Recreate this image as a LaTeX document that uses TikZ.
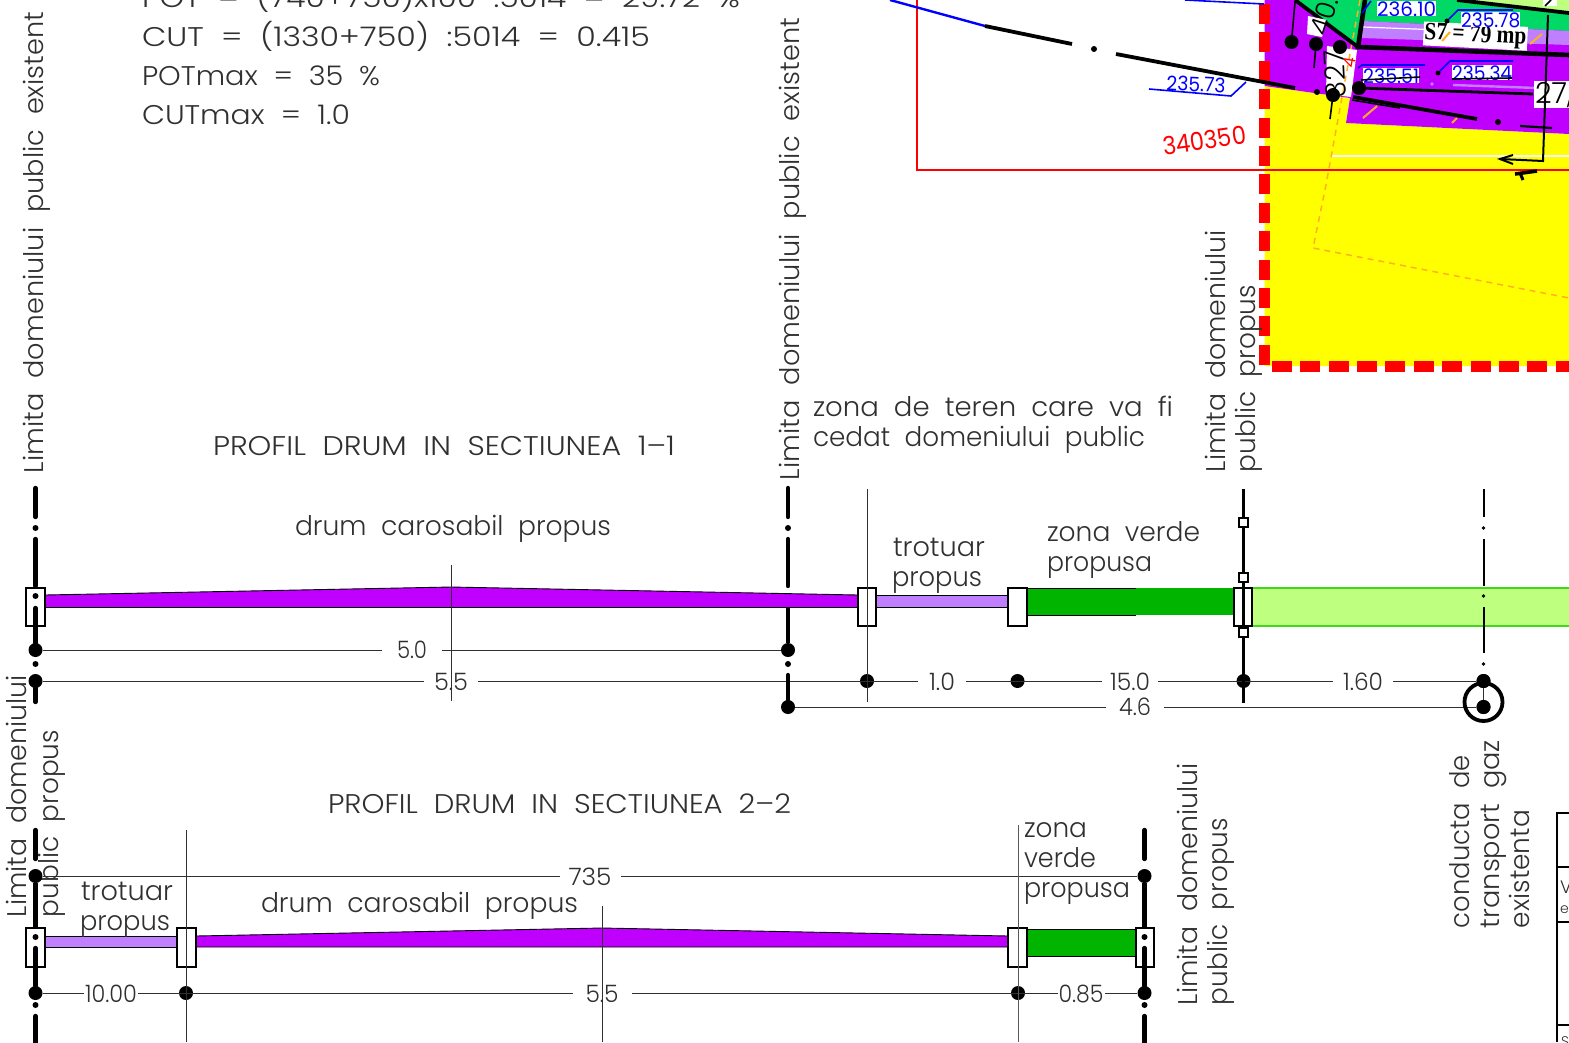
\documentclass[tikz,border=0pt]{standalone}
\usepackage{fontspec}
\usepackage{graphicx}
\setmainfont{Poppins Light}[WordSpace=2.0]
\newfontfamily\regfont{Poppins}
\newfontfamily\boldserif{Liberation Serif Bold}
\newsavebox\fitbox
\newcommand\fitw[2]{\sbox\fitbox{#2}\pgfmathsetmacro\fitr{#1/(\the\wd\fitbox)}\scalebox{\fitr}[1]{\usebox\fitbox}}
\definecolor{pur}{HTML}{BF00FF}
\definecolor{lpur}{HTML}{BF7FFF}
\definecolor{grn}{HTML}{00B400}
\definecolor{lgrn}{HTML}{BFFF7F}
\definecolor{lgrnb}{HTML}{44D61A}
\definecolor{mgrn}{HTML}{00D966}
\definecolor{blu}{HTML}{0000FF}
\definecolor{org}{HTML}{FFB020}
\definecolor{rd}{HTML}{FF0000}
\definecolor{yel}{HTML}{FFFF00}
\definecolor{tx}{HTML}{303030}
\tikzset{x=1pt,y=-1pt,
 cad/.style={inner sep=0pt,outer sep=0pt,text=tx,font=\fontsize{27}{27}\selectfont,anchor=base west},
 vcad/.style={cad,rotate=90},
 dimlab/.style={inner ysep=1pt,outer sep=0pt,text=tx,fill=white,font=\fontsize{24}{24}\selectfont,anchor=base},
 wbox/.style={draw=black,line width=2.2pt,fill=white,inner sep=0pt,minimum width=18.5pt,minimum height=38.5pt},
 thinl/.style={draw=tx,line width=1pt},
 axisl/.style={draw=black,line width=4.4pt,line cap=round},
 midl/.style={draw=black,line width=2.6pt},
 pipel/.style={draw=black,line width=2pt},
 bigdot/.style={circle,fill=black,inner sep=0pt,minimum size=14pt},
 middot/.style={circle,fill=black,inner sep=0pt,minimum size=14pt},
 smalldot/.style={circle,fill=black,inner sep=0pt,minimum size=6pt},
 tinydot/.style={circle,fill=black,inner sep=0pt,minimum size=3.6pt},
 sqmark/.style={draw=black,line width=2pt,fill=white,inner sep=0pt,minimum size=9pt},
 bluel/.style={draw=blu,line width=1.6pt},
 bluet/.style={inner sep=0pt,text=blu,fill=white,font=\regfont\fontsize{20}{20}\selectfont,anchor=base west},
 orgd/.style={draw=org,line width=1.5pt,dash pattern=on 6pt off 5pt},
 orgs/.style={draw=org,line width=2pt},
 redd/.style={draw=rd,line width=11pt,dash pattern=on 20pt off 8.4pt},
 planl/.style={draw=black,line width=3.8pt},
 planthin/.style={draw=black,line width=1.6pt},
 tabl/.style={draw=black,line width=2pt}}
\begin{document}
\begin{tikzpicture}
\useasboundingbox (0,0) rectangle (1569,1042);
\clip (0,0) rectangle (1569,1042);
% ---- plan, top right
\fill[yel] (1264.5,86) -- (1350,98) -- (1346,123) -- (1569,134) -- (1569,366) -- (1264.5,366) -- cycle;
\fill[pur] (1264.5,0) -- (1569,0) -- (1569,134) -- (1346,123) -- (1350,98) -- (1264.5,86) -- cycle;
\fill[white] (1327,46) -- (1357,50) -- (1351,97) -- (1326,94) -- cycle;
\fill[mgrn] (1295,0) -- (1358,47) -- (1365,0) -- cycle;
\fill[mgrn] (1363,0) -- (1569,0) -- (1569,31) -- (1363,21) -- cycle;
\fill[lgrn] (1457,0) -- (1569,0) -- (1569,13) -- cycle;
\fill[lpur] (1363,21) -- (1569,31) -- (1569,45) -- (1361,38) -- cycle;
\draw[white,line width=1.2pt] (1363,27) -- (1440,30);
\draw[white,line width=1.2pt] (1332,156) -- (1569,156);
\draw[planl] (1457,0) -- (1569,13);
% orange
\draw[orgd] (1360,0) -- (1352,43) -- (1325,190) -- (1313,248) -- (1569,298);
\draw[orgs] (1363,118) -- (1377,106);
\draw[orgs] (1452,123) -- (1457,118);
\draw[orgs] (1530,44) -- (1542,34);
% red outline
\draw[draw=rd,line width=1.8pt] (917,0) -- (917,170) -- (1569,170);
\draw[redd] (1264.5,4) -- (1264.5,366) -- (1569,366);
% axis of road, plan
\draw[bluel,line width=2.4pt] (890,0) -- (985,26);
\draw[planl] (985,26) -- (1072,44);
\node[smalldot] (pd1) at (1094,49) {};
\draw[planl] (1116,54) -- (1295,88);
\node[smalldot] (pd2) at (1317,92) {};
\draw[planl] (1353,97) -- (1477,119);
\draw[planthin] (1352,100) -- (1400,108);
\node[smalldot] (pd3) at (1498,122) {};
\draw[planthin,line width=2.2pt] (1520,126) -- (1552,128);
\draw[bluel] (1185,0) -- (1264,4);
% thick frame
\draw[planl,line width=4.6pt] (1365,0) -- (1358,47) -- (1569,55);
\draw[planl] (1295,0) -- (1358,47);
\draw[lpur,line width=2.4pt] (1453,85) -- (1537,88);
\fill[lpur] (1432,84) circle (1.8pt);
% rotated small numbers
\fill[white] (1308,16) -- (1327,20) -- (1322,37) -- (1307,34) -- cycle;
\node[cad,rotate=72,font=\fontsize{27}{27}\selectfont,text=black] (nr1) at (1327,37) {40.8};
\node[cad,rotate=93,font=\fontsize{28}{28}\selectfont,text=black] (nr2) at (1346,97) {327};
\node[cad,text=rd,font=\regfont\fontsize{16}{16}\selectfont,rotate=80] (nr3) at (1354,68) {4};
% big dots with stems
\node[bigdot] (n1) at (1291.5,42) {};
\draw[planthin] (1295,2) -- (n1.center);
\node[bigdot] (n2) at (1316,44) {};
\draw[planthin] (n2.center) -- (1314,68);
\node[bigdot] (n3) at (1340,47) {};
\node[bigdot] (n4) at (1333,95) {};
\draw[planthin] (n4.center) -- (1330,119);
\node[bigdot] (n5) at (1359,88) {};
\draw[planl,line width=2.8pt] (n5.center) -- (1533,94);
% S7 label first, so the level above it stays readable
\node[inner sep=1pt,fill=white,rotate=-3,font=\boldserif\fontsize{25}{25}\selectfont,text=black,anchor=base west] (s7) at (1423,39) {\fitw{102}{S7 = 79 mp}};
\draw[orgs] (1442,41) -- (1450,32);
% blue labels
\node[bluet] (b1) at (1377,16) {\fitw{59}{236.10}};
\draw[bluel] (1362,13) -- (1371,1);
\node[bluet] (b2) at (1461,27) {\fitw{59}{235.78}};
\node[smalldot,minimum size=5pt] (bd2) at (1447,21) {};
\draw[bluel] (bd2) -- (1458,10) -- (1513,10);
\node[bluet] (b3) at (1363,83) {\fitw{56}{235.51}};
\draw[bluel] (1358,68) -- (1362,65) -- (1425,65);
\draw[planthin] (1361,80) -- (1420,77);
\node[bluet] (b4) at (1452,80) {\fitw{60}{235.34}};
\node[smalldot,minimum size=5pt] (bd4) at (1438,73) {};
\draw[bluel] (bd4) -- (1450,61) -- (1513,61);
\draw[planthin] (1452,79) -- (1512,78);
\node[bluet,fill=none,rotate=-3] (b5) at (1166,90) {\fitw{59}{235.73}};
\draw[bluel] (1149,89) -- (1231,96) -- (1246,82);
\node[cad,rotate=8,text=rd,font=\regfont\fontsize{25}{25}\selectfont] (rn) at (1164,155) {\fitw{84}{340350}};
\node[cad,fill=white,text=black,font=\fontsize{29}{29}\selectfont,inner xsep=1pt,inner ysep=1pt] (n27) at (1534,103) {27,};
% thin vertical with arrow
\fill[white] (1543,0) rectangle (1557,6);
\draw[planthin] (1551,0) -- (1545,6);
\draw[planthin,line width=2pt] (1548,15) -- (1543,161) -- (1500,159);
\draw[planthin,line width=2pt] (1513,155) -- (1500,159) -- (1513,164);
\draw[draw=black,line width=3.6pt] (1515,174) -- (1537,171);
\draw[draw=black,line width=3pt] (1520,173) -- (1523,180);
% ---- top formulas
\node[cad] (t1) at (142,7) {\fitw{598}{POT = (740+750)x100 :5014 = 29.72 \%}};
\node[cad] (t2) at (142,46) {\fitw{508}{CUT = (1330+750) :5014 = 0.415}};
\node[cad] (t3) at (142,85) {\fitw{238}{POTmax = 35 \%}};
\node[cad] (t4) at (142,124) {\fitw{208}{CUTmax = 1.0}};
% ---- section 1-1
\fill[pur] (45,595) -- (451,587) -- (858,595) -- (858,607) -- (45,607) -- cycle;
\draw[black,line width=.9pt] (45,595) -- (451,587) -- (858,595);
\draw[black,line width=.9pt] (45,607) -- (858,607);
\fill[lpur] (876,595) rectangle (1008,607);
\draw[black,line width=.9pt] (876,595) -- (1008,595) (876,607) -- (1008,607);
\fill[grn] (1027,588) rectangle (1234,615);
\draw[black,line width=1pt] (1027,588) -- (1136,588) (1027,615) -- (1136,615);
\fill[lgrn] (1252,588) rectangle (1569,626);
\draw[lgrnb,line width=1.5pt] (1252,588) -- (1569,588) (1252,626) -- (1569,626);
% dimension nodes
\node[bigdot] (a1) at (35.5,650) {};
\node[bigdot] (a2) at (788,650) {};
\node[bigdot] (b1d) at (35.5,681) {};
\node[middot] (b2d) at (867,681) {};
\node[middot] (b3d) at (1017.5,681) {};
\node[bigdot] (b4d) at (1243.5,681) {};
\node[bigdot] (b5d) at (1483.5,681) {};
\node[bigdot] (c1d) at (788,707) {};
\node[bigdot] (c2d) at (1483.5,707) {};
\draw[thinl] (a1) -- (a2);
\draw[thinl] (b1d) -- (b5d);
\draw[thinl] (c1d) -- (c2d);
\draw[thinl,line width=1.6pt] (b5d) -- (c2d);
% axis lines 1-1
\draw[axisl] (35.5,488) -- (35.5,517);
\node[smalldot] (q1) at (35.5,528) {};
\draw[axisl] (35.5,539) -- (35.5,586);
\node[smalldot] (q2) at (35.5,664) {};
\draw[axisl] (788,488) -- (788,517);
\node[smalldot] (q3) at (788,528) {};
\draw[axisl] (788,539) -- (788,586);
\draw[axisl,line cap=butt] (788,607) -- (a2);
\node[smalldot] (q4) at (788,664) {};
\draw[axisl] (788,675) -- (c1d);
\node[wbox] (k1) at (35.5,607) {};
\node[smalldot] (q5) at (35.5,596) {};
\draw[axisl] (35.5,608) -- (a1);
\draw[axisl] (b1d) -- (35.5,702);
% thin verticals
\coordinate (v1t) at (867,489);
\coordinate (v1b) at (867,702);
\node[wbox] (k2) at (867,607) {};
\draw[thinl] (v1t) -- (v1b);
\node[wbox] (k3) at (1017.5,607) {};
\node[wbox] (k4) at (1243,607) {};
\draw[midl] (1243.5,489) -- (1243.5,703);
\node[sqmark] (s1) at (1243.5,522) {};
\node[sqmark] (s2) at (1243.5,577) {};
\node[sqmark] (s3) at (1243.5,632) {};
% gas axis
\draw[pipel] (1483.5,489) -- (1483.5,517);
\node[tinydot] (g1) at (1483.5,528) {};
\draw[pipel] (1483.5,539) -- (1483.5,586);
\node[tinydot] (g2) at (1483.5,596) {};
\draw[pipel] (1483.5,607) -- (1483.5,653);
\node[tinydot] (g3) at (1483.5,664) {};
\node[circle,draw=black,line width=3.8pt,inner sep=0pt,minimum size=38pt] (gc) at (1483.5,702) {};
\node[bigdot] at (b5d) {};
\node[bigdot] at (c2d) {};
% dims labels
\node[dimlab,inner xsep=15pt] (l1) at (412,658) {\fitw{30}{5.0}};
\node[dimlab,inner xsep=10pt] (l2) at (451,690) {\fitw{34}{5.5}};
\node[dimlab,inner xsep=11pt] (l3) at (942,690) {\fitw{26}{1.0}};
\node[dimlab,inner xsep=8pt] (l4) at (1130,690) {\fitw{40}{15.0}};
\node[dimlab,inner xsep=10pt] (l5) at (1363,690) {\fitw{40}{1.60}};
\node[dimlab,inner xsep=13pt] (l6) at (1135,715) {\fitw{32}{4.6}};
\draw[thinl] (451,565) -- (451,701);
% texts 1-1
\node[vcad] (x1) at (43,473) {\fitw{461}{Limita domeniului public existent}};
\node[vcad] (x2) at (799,480) {\fitw{462}{Limita domeniului public existent}};
\node[vcad] (x3) at (1225,472) {\fitw{242}{Limita domeniului}};
\node[vcad] (x4) at (1255,472) {\fitw{187}{public propus}};
\node[cad] (x5) at (213,455) {\fitw{462}{PROFIL DRUM IN SECTIUNEA 1–1}};
\node[cad] (x6) at (295,535) {\fitw{316}{drum carosabil propus}};
\node[cad] (x7) at (813,416) {\fitw{360}{zona de teren care va fi}};
\node[cad] (x8) at (813,446) {\fitw{332}{cedat domeniului public}};
\node[cad] (x9) at (893,556) {\fitw{92}{trotuar}};
\node[cad] (x10) at (892,586) {\fitw{90}{propus}};
\node[cad] (x11) at (1047,541) {\fitw{153}{zona verde}};
\node[cad] (x12) at (1047,571) {\fitw{105}{propusa}};
\node[vcad] (x13) at (27,917) {\fitw{242}{Limita domeniului}};
\node[vcad] (x14) at (58,917) {\fitw{187}{public propus}};
% gas labels
\node[vcad] (x15) at (1469,928) {\fitw{173}{conducta de}};
\node[vcad] (x16) at (1499,928) {\fitw{188}{transport gaz}};
\node[vcad] (x17) at (1529,928) {\fitw{118}{existenta}};
% ---- section 2-2
\fill[lpur] (45,936) rectangle (177,947);
\draw[black,line width=.9pt] (45,936) -- (177,936) (45,947) -- (177,947);
\fill[pur] (196,936) -- (602,928) -- (1008,936) -- (1008,947) -- (196,947) -- cycle;
\draw[black,line width=.9pt] (196,936) -- (602,928) -- (1008,936) (196,947) -- (1008,947);
\fill[grn] (1027,929) rectangle (1136,956);
\draw[black,line width=1pt] (1027,929) -- (1136,929) (1027,956) -- (1136,956);
\node[bigdot] (e1) at (35.5,876) {};
\node[bigdot] (e2) at (1144.5,876) {};
\node[bigdot] (f1) at (35.5,993) {};
\node[bigdot] (f2) at (186,993) {};
\node[bigdot] (f3) at (1018,993) {};
\node[bigdot] (f4) at (1144.5,993) {};
\draw[thinl] (e1) -- (e2);
\draw[thinl] (f1) -- (f4);
\draw[axisl] (35.5,830) -- (35.5,859);
\draw[axisl,line cap=butt] (e1) -- (35.5,927);
\draw[axisl] (1144.5,830) -- (1144.5,859);
\draw[axisl,line cap=butt] (e2) -- (1144.5,927);
\node[wbox] (k5) at (35.5,947.5) {};
\node[wbox] (k6) at (186.5,947.5) {};
\node[wbox] (k7) at (1017.5,947.5) {};
\node[wbox] (k8) at (1145,947.5) {};
\node[smalldot] (r1) at (35.5,937) {};
\node[smalldot] (r2) at (1144.5,937) {};
\draw[axisl] (35.5,948) -- (f1);
\draw[axisl] (1144.5,948) -- (f4);
\node[smalldot] (r3) at (35.5,1005) {};
\node[smalldot] (r4) at (1144.5,1005) {};
\draw[axisl] (35.5,1016) -- (35.5,1044);
\draw[axisl] (1144.5,1016) -- (1144.5,1044);
\draw[thinl] (186,830) -- (186,1042);
\draw[thinl,draw=black!65] (1018,825) -- (1018,1042);
\node[dimlab,inner xsep=9pt] (m1) at (590,885) {\fitw{43}{735}};
\node[dimlab,inner xsep=1pt] (m2) at (111,1002) {\fitw{52}{10.00}};
\node[dimlab,inner xsep=13pt] (m3) at (602,1002) {\fitw{33}{5.5}};
\node[dimlab,inner xsep=1pt] (m4) at (1081,1002) {\fitw{45}{0.85}};
\draw[thinl] (602,906) -- (602,1042);
\node[cad] (y1) at (328,813) {\fitw{463}{PROFIL DRUM IN SECTIUNEA 2–2}};
\node[cad] (y2) at (261,912) {\fitw{317}{drum carosabil propus}};
\node[cad] (y3) at (81,900) {\fitw{92}{trotuar}};
\node[cad] (y4) at (80,930) {\fitw{90}{propus}};
\node[cad] (y5) at (1024,837) {\fitw{63}{zona}};
\node[cad] (y6) at (1024,867) {\fitw{72}{verde}};
\node[cad] (y7) at (1024,897) {\fitw{106}{propusa}};
\node[vcad] (y8) at (1197,1005) {\fitw{242}{Limita domeniului}};
\node[vcad] (y9) at (1227,1005) {\fitw{187}{public propus}};
% ---- table fragment
\draw[tabl] (1569,813) -- (1557,813) -- (1557,1042);
\draw[tabl] (1557,867) -- (1569,867);
\draw[tabl] (1557,922) -- (1569,922);
\draw[tabl] (1557,1025) -- (1569,1025);
\node[cad,font=\fontsize{18}{18}\selectfont] (z1) at (1560,893) {V};
\node[cad,font=\fontsize{14}{14}\selectfont] (z2) at (1560,913) {e};
\node[cad,font=\fontsize{14}{14}\selectfont] (z3) at (1561,1046) {S};
\end{tikzpicture}
\end{document}
